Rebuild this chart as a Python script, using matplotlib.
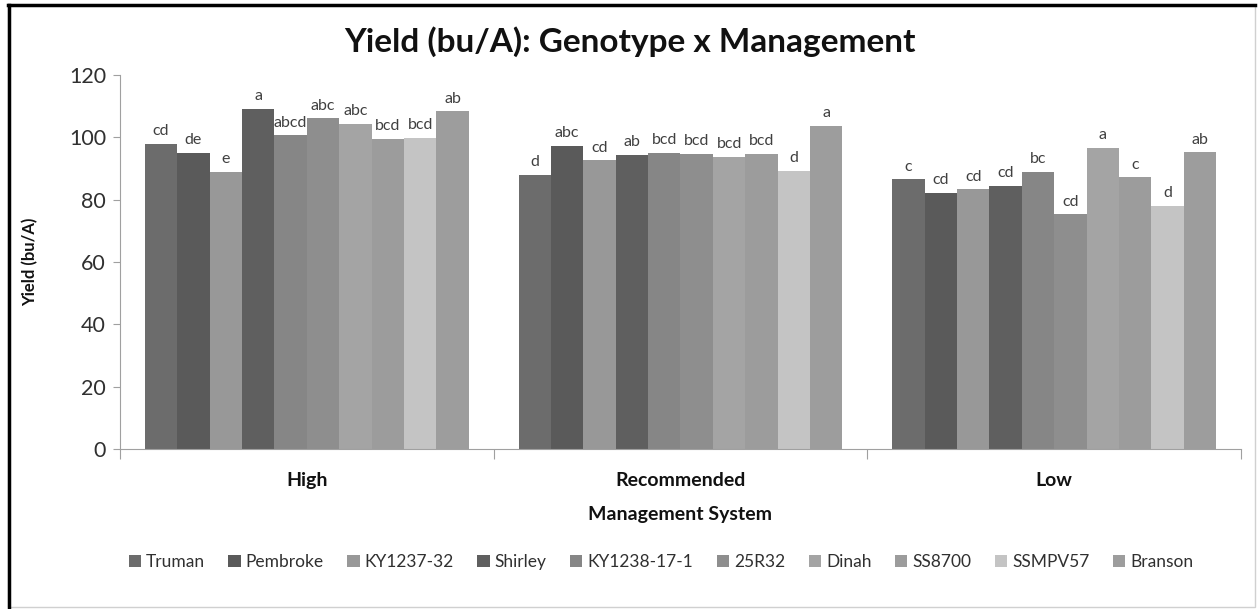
import matplotlib
matplotlib.use("Agg")
import matplotlib.pyplot as plt
import numpy as np
from matplotlib.patches import Rectangle

plt.rcParams["font.family"] = ["Lato", "DejaVu Sans"]

systems = ["High", "Recommended", "Low"]
genotypes = ["Truman", "Pembroke", "KY1237-32", "Shirley", "KY1238-17-1",
             "25R32", "Dinah", "SS8700", "SSMPV57", "Branson"]
# yield per genotype, values for High, Recommended, Low
yields = {
    "Truman":      [97.9, 88.0, 86.6],
    "Pembroke":    [95.0, 97.3, 82.3],
    "KY1237-32":   [89.0, 92.7, 83.4],
    "Shirley":     [109.2, 94.4, 84.4],
    "KY1238-17-1": [100.6, 95.0, 88.9],
    "25R32":       [106.1, 94.8, 75.3],
    "Dinah":       [104.4, 93.8, 96.6],
    "SS8700":      [99.6, 94.7, 87.2],
    "SSMPV57":     [99.9, 89.2, 78.0],
    "Branson":     [108.4, 103.8, 95.2],
}
letters = {
    "Truman":      ["cd", "d", "c"],
    "Pembroke":    ["de", "abc", "cd"],
    "KY1237-32":   ["e", "cd", "cd"],
    "Shirley":     ["a", "ab", "cd"],
    "KY1238-17-1": ["abcd", "bcd", "bc"],
    "25R32":       ["abc", "bcd", "cd"],
    "Dinah":       ["abc", "bcd", "a"],
    "SS8700":      ["bcd", "bcd", "c"],
    "SSMPV57":     ["bcd", "d", "d"],
    "Branson":     ["ab", "a", "ab"],
}
colors = ["#6c6c6c", "#5a5a5a", "#989898", "#5f5f5f", "#868686",
          "#8e8e8e", "#a4a4a4", "#9c9c9c", "#c4c4c4", "#9d9d9d"]

fig = plt.figure(figsize=(12.59, 6.09), dpi=100)
ax = fig.add_axes([0.0953, 0.2627, 0.8904, 0.6141])

n = len(genotypes)
group_w = 0.867
bw = group_w / n
x = np.arange(len(systems))
for i, g in enumerate(genotypes):
    pos = x - group_w / 2 + bw * (i + 0.5)
    bars = ax.bar(pos, yields[g], width=bw, color=colors[i], label=g, linewidth=0)
    for b, lab in zip(bars, letters[g]):
        ax.annotate(lab, (b.get_x() + b.get_width() / 2, b.get_height()),
                    xytext=(0, 4), textcoords="offset points",
                    ha="center", va="bottom", fontsize=11.5, color="#404040")

ax.set_xlim(-0.5, 2.5)
ax.set_ylim(0, 120)
ax.set_yticks(range(0, 121, 20))
ax.tick_params(axis="y", labelsize=15.5, length=5, color="#a0a0a0", labelcolor="#303030", pad=5)
ax.set_xticks([-0.5, 0.5, 1.5, 2.5])
ax.set_xticklabels([])
ax.tick_params(axis="x", length=7, color="#a0a0a0")
for k, s in enumerate(systems):
    ax.text(k, -10, s, ha="center", va="center", fontsize=14, fontweight="bold", color="#111111")
ax.text(1, -21, "Management System", ha="center", va="center", fontsize=14,
        fontweight="bold", color="#111111")
for sp in ["top", "right"]:
    ax.spines[sp].set_visible(False)
for sp in ["left", "bottom"]:
    ax.spines[sp].set_color("#a0a0a0")
ax.set_ylabel("Yield (bu/A)", fontsize=12, fontweight="bold", labelpad=22, color="#111111")

fig.text(0.5, 0.931, "Yield (bu/A): Genotype x Management", ha="center", va="center",
         fontsize=24, fontweight="bold", color="#111111")

fig.legend(loc="center", bbox_to_anchor=(0.525, 0.077), ncol=10, frameon=False,
           fontsize=12.5, handlelength=0.7, handleheight=0.7, handletextpad=0.3,
           columnspacing=1.35, labelcolor="#303030")

# frame around the figure
fig.patches.append(Rectangle((0.0063, 0.003), 0.9905, 0.988, transform=fig.transFigure,
                             fill=False, edgecolor="#d0d0d0", linewidth=1))
fig.lines.append(plt.Line2D([0.0071, 0.0071], [0.003, 0.991], transform=fig.transFigure,
                            color="black", linewidth=2.5))
fig.lines.append(plt.Line2D([0.0063, 0.9968], [0.991, 0.991], transform=fig.transFigure,
                            color="black", linewidth=2.5))

fig.savefig("out.png", dpi=100)
